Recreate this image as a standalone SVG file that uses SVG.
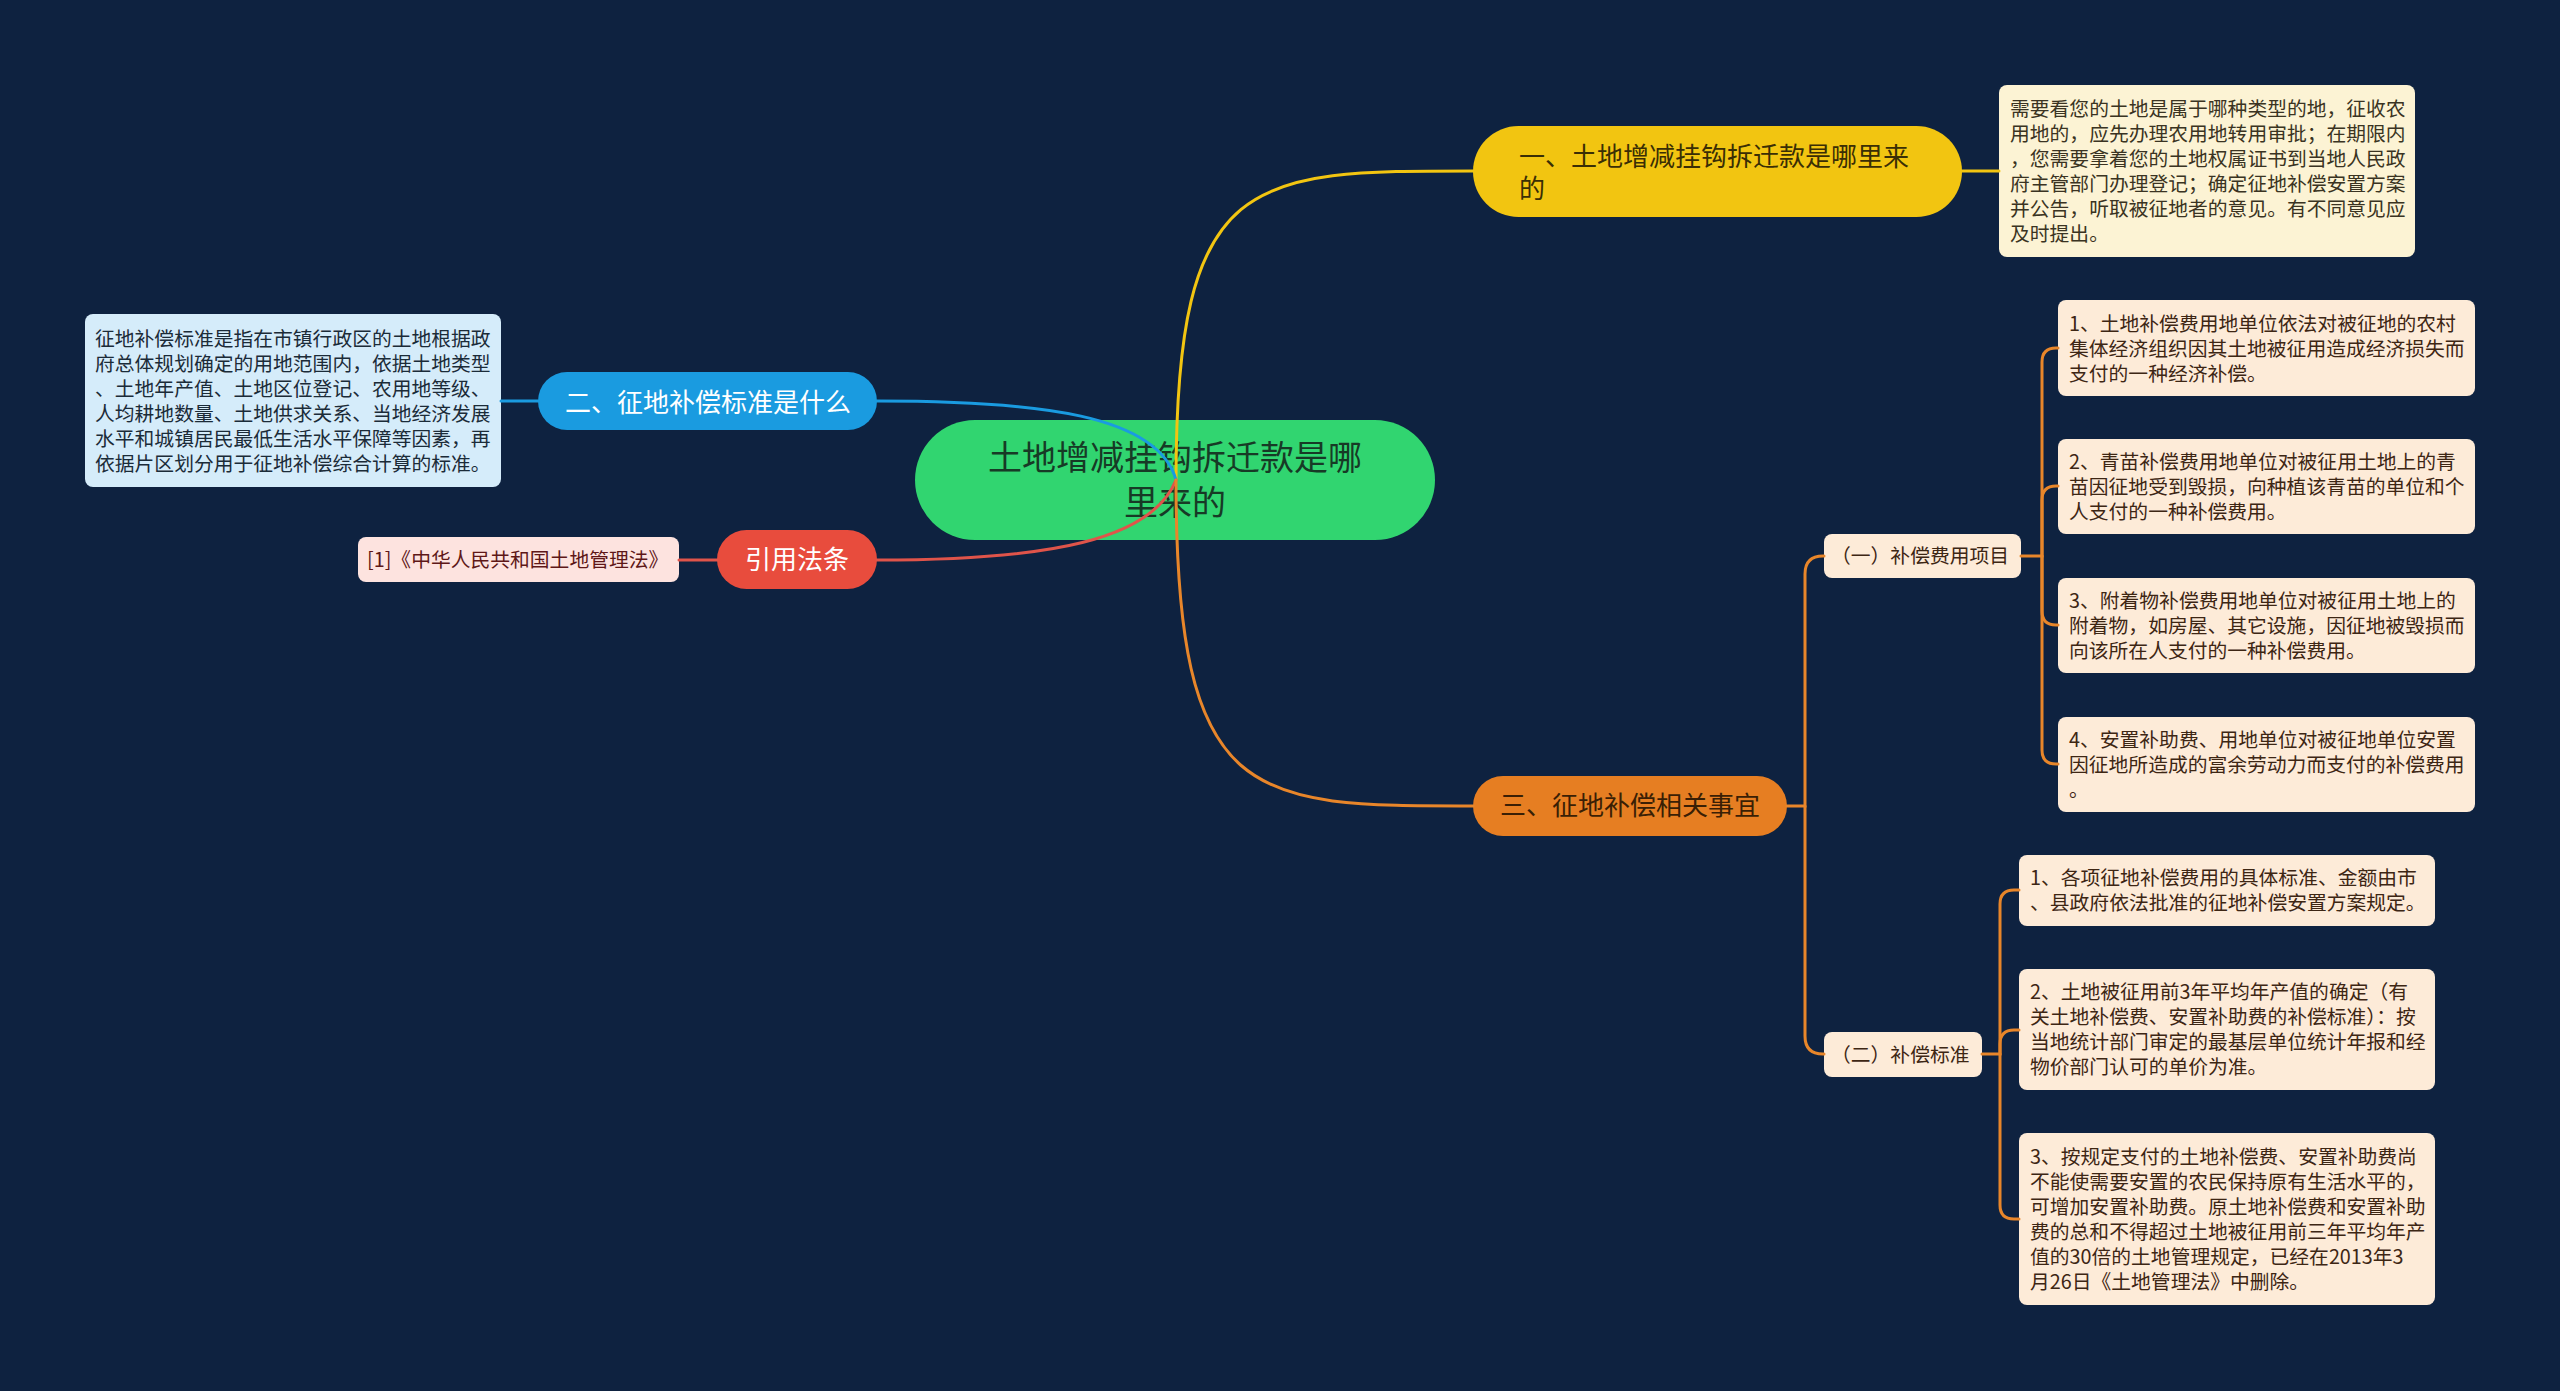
<svg xmlns="http://www.w3.org/2000/svg" width="2560" height="1391" viewBox="0 0 2560 1391">
<style>
text{font-family:"Noto Sans CJK SC","Noto Sans",sans-serif;}
.c{fill:none;stroke-width:3;stroke-linecap:round;}
.y{stroke:#f2c511}.b{stroke:#1a9be0}.r{stroke:#e0544a}.o{stroke:#e8862a}
.t20{font-size:19.8px;}
.t26{font-size:26px;}
</style>
<rect width="2560" height="1391" fill="#0e2240"/>

<g id="center">
<rect x="915" y="420" width="520" height="120" rx="60" fill="#31d570"/>
<text x="1175" y="470" font-size="34" fill="#173a26" text-anchor="middle"><tspan x="1175">土地增减挂钩拆迁款是哪</tspan><tspan x="1175" y="515">里来的</tspan></text>
</g>

<g id="n1">
<rect x="1473" y="126" width="489" height="91" rx="45.5" fill="#f2c511"/>
<text class="t26" fill="#3a2e05"><tspan x="1519" y="166">一、土地增减挂钩拆迁款是哪里来</tspan><tspan x="1519" y="198">的</tspan></text>
</g>
<g id="n1-note">
<rect x="1999" y="85" width="416" height="172" rx="8" fill="#fcf3d4"/>
<text class="t20" fill="#3a3322"><tspan x="2010" y="116">需要看您的土地是属于哪种类型的地，征收农</tspan><tspan x="2010" y="141">用地的，应先办理农用地转用审批；在期限内</tspan><tspan x="2010" y="166">，您需要拿着您的土地权属证书到当地人民政</tspan><tspan x="2010" y="191">府主管部门办理登记；确定征地补偿安置方案</tspan><tspan x="2010" y="216">并公告，听取被征地者的意见。有不同意见应</tspan><tspan x="2010" y="241">及时提出。</tspan></text>
</g>

<g id="n2">
<rect x="538" y="372" width="339" height="58" rx="29" fill="#1a9be0"/>
<text x="708" y="412" class="t26" fill="#ffffff" text-anchor="middle">二、征地补偿标准是什么</text>
</g>
<g id="n2-note">
<rect x="85" y="314" width="416" height="173" rx="8" fill="#d5ecfa"/>
<text class="t20" fill="#1b2b38"><tspan x="95" y="346">征地补偿标准是指在市镇行政区的土地根据政</tspan><tspan x="95" y="371">府总体规划确定的用地范围内，依据土地类型</tspan><tspan x="95" y="396">、土地年产值、土地区位登记、农用地等级、</tspan><tspan x="95" y="421">人均耕地数量、土地供求关系、当地经济发展</tspan><tspan x="95" y="446">水平和城镇居民最低生活水平保障等因素，再</tspan><tspan x="95" y="471">依据片区划分用于征地补偿综合计算的标准。</tspan></text>
</g>

<g id="n-law">
<rect x="717" y="530" width="160" height="59" rx="29.5" fill="#e84c3d"/>
<text x="797" y="569" class="t26" fill="#ffffff" text-anchor="middle">引用法条</text>
</g>
<g id="n-law-note">
<rect x="358" y="537" width="321" height="45" rx="8" fill="#fde3df"/>
<text x="367" y="567" class="t20" fill="#5e1717">[1]《中华人民共和国土地管理法》</text>
</g>

<g id="n3">
<rect x="1473" y="776" width="314" height="60" rx="30" fill="#e67e22"/>
<text x="1630" y="815" class="t26" fill="#3a1f05" text-anchor="middle">三、征地补偿相关事宜</text>
</g>

<g id="n3-1">
<rect x="1824" y="534" width="197" height="44" rx="8" fill="#fdebd8"/>
<text x="1831" y="563" class="t20" fill="#3d2614">（一）补偿费用项目</text>
</g>
<g id="n3-1-a">
<rect x="2058" y="300" width="417" height="96" rx="8" fill="#fdebd8"/>
<text class="t20" fill="#3d2614"><tspan x="2069" y="331">1、土地补偿费用地单位依法对被征地的农村</tspan><tspan x="2069" y="356">集体经济组织因其土地被征用造成经济损失而</tspan><tspan x="2069" y="381">支付的一种经济补偿。</tspan></text>
</g>
<g id="n3-1-b">
<rect x="2058" y="439" width="417" height="95" rx="8" fill="#fdebd8"/>
<text class="t20" fill="#3d2614"><tspan x="2069" y="469">2、青苗补偿费用地单位对被征用土地上的青</tspan><tspan x="2069" y="494">苗因征地受到毁损，向种植该青苗的单位和个</tspan><tspan x="2069" y="519">人支付的一种补偿费用。</tspan></text>
</g>
<g id="n3-1-c">
<rect x="2058" y="578" width="417" height="95" rx="8" fill="#fdebd8"/>
<text class="t20" fill="#3d2614"><tspan x="2069" y="608">3、附着物补偿费用地单位对被征用土地上的</tspan><tspan x="2069" y="633">附着物，如房屋、其它设施，因征地被毁损而</tspan><tspan x="2069" y="658">向该所在人支付的一种补偿费用。</tspan></text>
</g>
<g id="n3-1-d">
<rect x="2058" y="717" width="417" height="95" rx="8" fill="#fdebd8"/>
<text class="t20" fill="#3d2614"><tspan x="2069" y="747">4、安置补助费、用地单位对被征地单位安置</tspan><tspan x="2069" y="772">因征地所造成的富余劳动力而支付的补偿费用</tspan><tspan x="2069" y="797">。</tspan></text>
</g>

<g id="n3-2">
<rect x="1824" y="1032" width="158" height="45" rx="8" fill="#fdebd8"/>
<text x="1831" y="1062" class="t20" fill="#3d2614">（二）补偿标准</text>
</g>
<g id="n3-2-a">
<rect x="2019" y="855" width="416" height="71" rx="8" fill="#fdebd8"/>
<text class="t20" fill="#3d2614"><tspan x="2030" y="885">1、各项征地补偿费用的具体标准、金额由市</tspan><tspan x="2030" y="910">、县政府依法批准的征地补偿安置方案规定。</tspan></text>
</g>
<g id="n3-2-b">
<rect x="2019" y="969" width="416" height="121" rx="8" fill="#fdebd8"/>
<text class="t20" fill="#3d2614"><tspan x="2030" y="999">2、土地被征用前3年平均年产值的确定（有</tspan><tspan x="2030" y="1024">关土地补偿费、安置补助费的补偿标准）：按</tspan><tspan x="2030" y="1049">当地统计部门审定的最基层单位统计年报和经</tspan><tspan x="2030" y="1074">物价部门认可的单价为准。</tspan></text>
</g>
<g id="n3-2-c">
<rect x="2019" y="1133" width="416" height="172" rx="8" fill="#fdebd8"/>
<text class="t20" fill="#3d2614"><tspan x="2030" y="1164">3、按规定支付的土地补偿费、安置补助费尚</tspan><tspan x="2030" y="1189">不能使需要安置的农民保持原有生活水平的，</tspan><tspan x="2030" y="1214">可增加安置补助费。原土地补偿费和安置补助</tspan><tspan x="2030" y="1239">费的总和不得超过土地被征用前三年平均年产</tspan><tspan x="2030" y="1264">值的30倍的土地管理规定，已经在2013年3</tspan><tspan x="2030" y="1289">月26日《土地管理法》中删除。</tspan></text>
</g>

<g id="connectors">
<path class="c y" d="M1176,480 C1176,171 1250,171 1473,171"/>
<path class="c y" d="M1962,171 H1999"/>
<path class="c b" d="M877,401 C1040,401 1158,415 1176,480"/>
<path class="c b" d="M501,401 H538"/>
<path class="c r" d="M877,560 C1050,560 1152,540 1176,480"/>
<path class="c r" d="M679,560 H717"/>
<path class="c o" d="M1176,480 C1176,806 1250,806 1473,806"/>
<path class="c o" d="M1787,806 H1805 V574 Q1805,556 1823,556 H1824"/>
<path class="c o" d="M1805,806 V1036 Q1805,1054 1823,1054 H1824"/>
<path class="c o" d="M2021,556 H2042 V362 Q2042,348 2056,348 H2058"/>
<path class="c o" d="M2042,556 V500 Q2042,486 2056,486 H2058"/>
<path class="c o" d="M2042,556 V611 Q2042,625 2056,625 H2058"/>
<path class="c o" d="M2042,556 V750 Q2042,764 2056,764 H2058"/>
<path class="c o" d="M1982,1054 H2000 V904 Q2000,890 2014,890 H2019"/>
<path class="c o" d="M2000,1054 V1044 Q2000,1030 2014,1030 H2019"/>
<path class="c o" d="M2000,1054 V1205 Q2000,1219 2014,1219 H2019"/>
</g>
</svg>
